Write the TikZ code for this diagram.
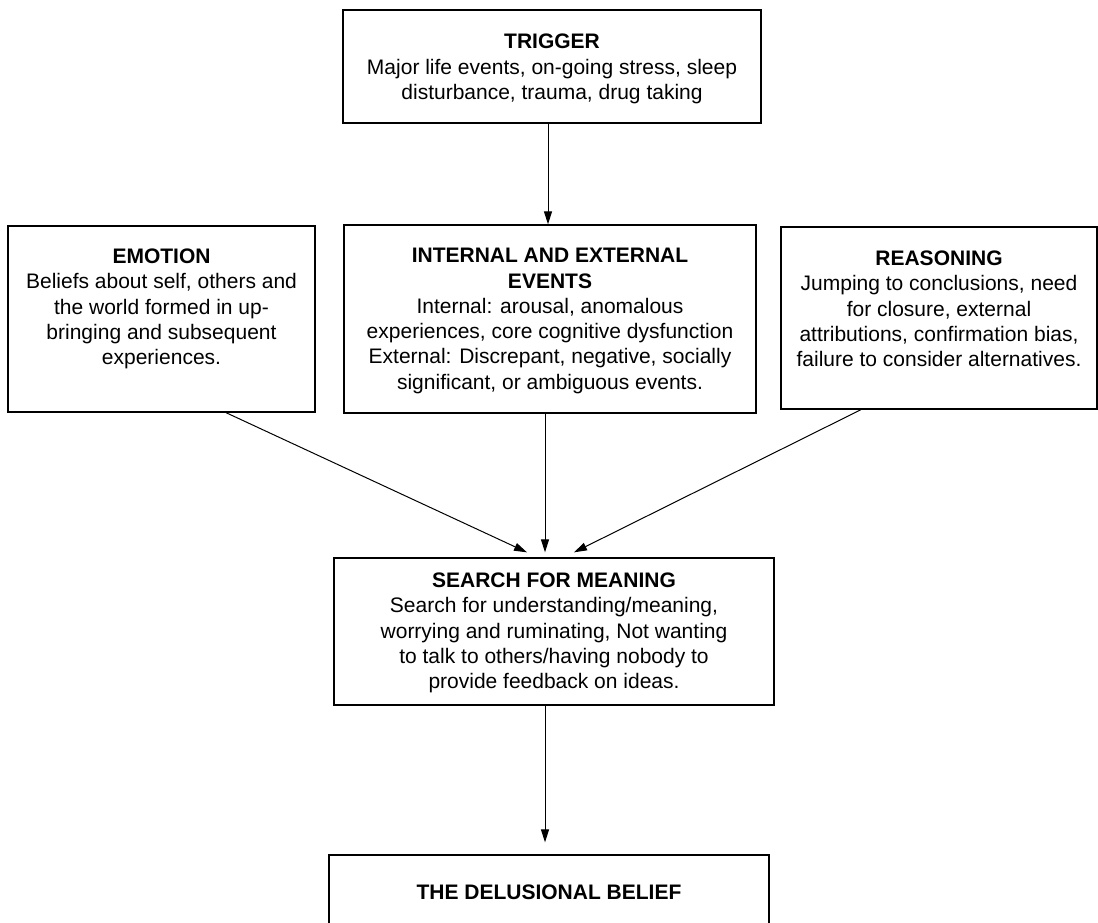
\documentclass[tikz,border=0pt]{standalone}
\usepackage{fontspec}
\setmainfont{Liberation Sans}
\usetikzlibrary{arrows.meta,calc}
\tikzset{
  box/.style={draw=black, line width=1.3pt, rectangle, inner sep=0pt},
  label/.style={align=center, inner sep=0pt, font=\fontsize{21}{25.3}\selectfont},
  conn/.style={draw=black, line width=1pt, -{Triangle[length=13pt,width=8pt]}},
}
\begin{document}
\begin{tikzpicture}[x=1pt,y=-1pt]
\useasboundingbox (0,0) rectangle (1098,923);
\fill[white] (0,0) rectangle (1098,923);
\clip (0,0) rectangle (1098,923);
% boxes
\node[box, minimum width=418pt, minimum height=113pt] (trigger) at (552,66.5) {};
\node[box, minimum width=307pt, minimum height=186pt] (emotion) at (161.5,319) {};
\node[box, minimum width=412pt, minimum height=188pt] (internal) at (550,319) {};
\node[box, minimum width=316pt, minimum height=182pt] (reasoning) at (939,318) {};
\node[box, minimum width=440pt, minimum height=147pt] (search) at (554,631.5) {};
\node[box, minimum width=440pt, minimum height=80pt] (delusion) at (549,895) {};
% texts
\node[label] (triggertext) at (552,69) {\textbf{TRIGGER}\\Major life events, on-going stress, sleep\\disturbance, trauma, drug taking};
\node[label] (emotiontext) at (161.5,309) {\textbf{EMOTION}\\Beliefs about self, others and\\the world formed in up-\\bringing and subsequent\\experiences.};
\node[label] (internaltext) at (550,321) {\textbf{INTERNAL AND EXTERNAL}\\\textbf{EVENTS}\\Internal: arousal, anomalous\\experiences, core cognitive dysfunction\\External: Discrepant, negative, socially\\significant, or ambiguous events.};
\node[label] (reasoningtext) at (939,309) {\textbf{REASONING}\\Jumping to conclusions, need\\for closure, external\\attributions, confirmation bias,\\failure to consider alternatives.};
\node[label] (searchtext) at (554,633) {\textbf{SEARCH FOR MEANING}\\Search for understanding/meaning,\\worrying and ruminating, Not wanting\\to talk to others/having nobody to\\provide feedback on ideas.};
\node[label] (delusiontext) at (549,892) {\textbf{THE DELUSIONAL BELIEF}};
% connectors
\draw[conn] ($(trigger.south)+(-4,0)$) -- ($(internal.north)+(-2,0)$);
\draw[conn] ($(emotion.south)+(64.5,0)$) -- ($(search.north)+(-27,-5)$);
\draw[conn] ($(internal.south)+(-5,0)$) -- ($(search.north)+(-9,-5)$);
\draw[conn] ($(reasoning.south)+(-78,0)$) -- ($(search.north)+(20,-5)$);
\draw[conn] ($(search.south)+(-9,0)$) -- ($(delusion.north)+(-4,-12)$);
\end{tikzpicture}
\end{document}
